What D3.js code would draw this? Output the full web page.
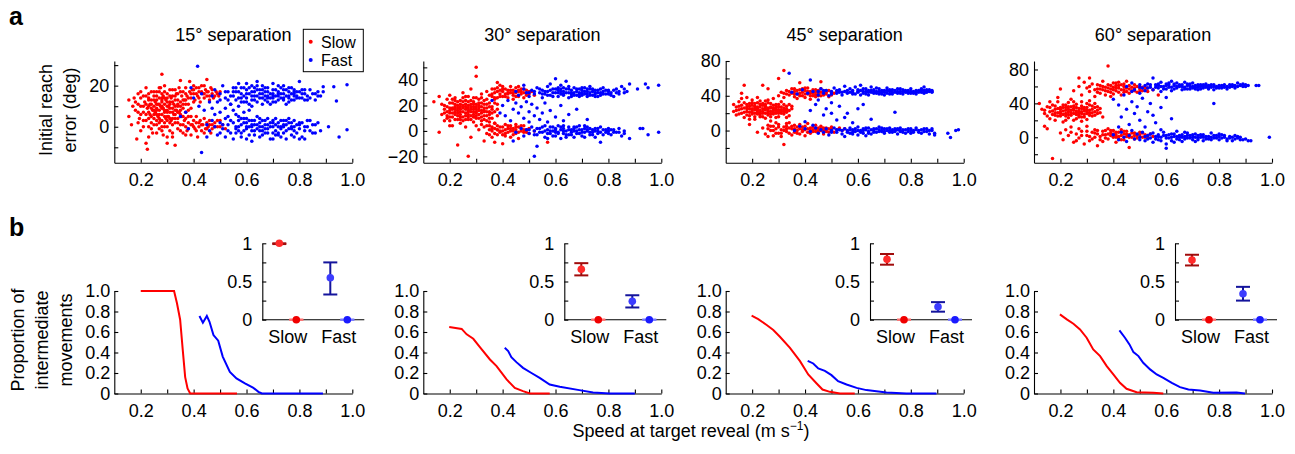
<!DOCTYPE html>
<html><head><meta charset="utf-8">
<script src="https://cdn.jsdelivr.net/npm/d3@7"></script>
<style>
body{margin:0;background:#fff;}
svg text{font-family:"Liberation Sans",Arial,Helvetica,sans-serif;fill:#000;}
</style></head><body>
<svg id="c" width="1295" height="454" xmlns="http://www.w3.org/2000/svg"></svg>
<script>
// ---------------- DATA ----------------
const panelTitles = ["15° separation","30° separation","45° separation","60° separation"];
const seriesNames = ["Slow","Fast"];
const speedTicks = [0.2,0.3,0.4,0.5,0.6,0.7,0.8,0.9,1.0];
const speedLabels = [0.2,0.4,0.6,0.8,1.0];
const speedDomain = [0.1,1.0];
const errorDomains = [[-17.5,32],[-25,55],[-37,80],[-30,90]];
const errorTicks = [[-10,0,10,20,30],[-20,-10,0,10,20,30,40,50],[-20,0,20,40,60,80],[-20,0,20,40,60,80]];
const errorLabels = [[0,20],[-20,0,20,40],[0,40,80],[0,40,80]];
const propTicks = [0,0.2,0.4,0.6,0.8,1.0];
const insetTicks = [0,0.25,0.5,0.75,1];
const insetLabels = [0,0.5,1];
const insetCategories = ["Slow","Fast"];
const insetCategoryPos = [1.5,4.5];
const insetPointPos = [1,2,4,5];

// scatter: [speed (m/s), initial reach error (deg)]
const slow15 = [[.155,13],[.155,5],[.17,10],[.165,1],[.185,-6],[.2,17],[.22,-8],[.225,-11],[.175,14],[.18,8],[.19,11],[.195,4],[.2,-2],[.21,15],[.21,7],[.215,12],[.22,3],[.225,9],[.23,16],[.23,0],[.235,6],[.235,11],[.24,13],[.24,2],[.245,8],[.245,-3],[.25,10],[.25,4],[.25,15],[.255,7],[.255,12],[.26,1],[.26,9],[.26,17],[.265,5],[.265,11],[.27,14],[.27,-1],[.27,8],[.275,3],[.275,10],[.275,19],[.28,6],[.28,12],[.28,25.5],[.285,9],[.285,-4],[.285,15],[.29,2],[.29,7],[.29,11],[.295,13],[.295,4],[.3,8],[.3,-8],[.3,16],[.3,0],[.305,10],[.305,5],[.31,12],[.31,-2],[.31,7],[.315,14],[.315,3],[.32,9],[.32,18],[.32,-5],[.325,6],[.325,11],[.33,-9],[.33,2],[.33,13],[.335,8],[.335,16],[.34,4],[.34,10],[.34,-1],[.345,19],[.345,7],[.35,22.5],[.35,12],[.35,1],[.355,15],[.355,5],[.36,9],[.36,-3],[.36,17],[.365,3],[.365,13],[.37,19],[.37,0],[.37,7],[.375,15],[.375,-2],[.38,11],[.38,2],[.385,22],[.385,17],[.39,5],[.39,14],[.39,-4],[.395,18],[.395,1],[.4,16],[.4,3],[.4,20],[.405,-1],[.405,13],[.41,19],[.41,2],[.415,15],[.415,-5],[.42,17],[.42,0],[.425,12],[.425,3],[.43,20],[.43,-2],[.435,16],[.435,1],[.44,14],[.44,4],[.445,18],[.445,-1],[.45,23],[.45,15],[.45,2],[.455,17],[.455,0],[.46,13],[.46,3],[.465,19],[.465,-3],[.47,16],[.47,1],[.475,14],[.48,2],[.485,17],[.49,0],[.495,15],[.5,3],[.51,1],[.52,-1],[.22,6],[.23,10],[.24,5],[.26,13],[.27,4],[.28,9],[.29,5],[.3,12],[.31,9],[.32,4],[.33,10],[.34,7],[.25,1],[.28,0],[.3,3],[.32,15],[.27,11],[.29,14],[.26,6],[.31,2],[.33,6],[.35,8],[.24,9],[.36,11],[.38,8],[.37,4],[.34,13],[.28,16],[.23,13],[.22,19],[.19,16],[.2,6],
[.18,12],[.19,7],[.2,10],[.2,14],[.21,3],[.21,10],[.22,15],[.22,11],[.23,7],[.23,4],[.24,17],[.24,11],[.25,6],[.25,13],[.25,8],[.26,3],[.26,15],[.26,11],[.27,6],[.27,17],[.27,2],[.28,14],[.28,3],[.28,10],[.29,8],[.29,17],[.29,0],[.3,10],[.3,5],[.3,14],[.31,11],[.31,4],[.31,15],[.32,7],[.32,12],[.32,1],[.33,4],[.33,15],[.33,8],[.34,11],[.34,2],[.34,16],[.35,6],[.35,10],[.35,-2],[.36,13],[.36,5],[.36,1],[.37,11],[.37,16],[.37,-4],[.38,14],[.38,5],[.38,-1],[.39,9],[.39,16],[.39,1],[.4,12],[.4,0],[.4,18],[.41,16],[.41,-2],[.41,5],[.42,14],[.42,2],[.42,19],[.43,17],[.43,1],[.44,16],[.44,-3],[.44,20],[.45,17],[.45,-1],[.46,15],[.46,1],[.47,18],[.47,-1],[.48,15],[.48,0],[.49,16],[.49,3],[.5,17],[.5,0],[.24,-1],[.26,-3],[.28,-2],[.3,-5],[.32,-3],[.21,0],[.19,2],[.23,-5],[.25,17],[.27,19],[.29,20],[.31,18],[.33,18],[.35,17],[.37,13],[.23,14],[.3,7],[.28,13],[.26,8]];
const fast15 = [[.47,15],[.48,18],[.49,12],[.5,16],[.51,20],[.52,14],[.53,17],[.54,11],[.55,19],[.55,15],[.56,13],[.57,21],[.57,17],[.58,12],[.58,16],[.59,19],[.6,14],[.6,18],[.61,11],[.61,16],[.62,20],[.62,13],[.63,17],[.63,15],[.64,22],[.64,12],[.65,18],[.65,14],[.66,16],[.66,20],[.67,13],[.67,17],[.68,15],[.68,19],[.69,11],[.69,16],[.7,14],[.7,18],[.71,15],[.71,12],[.72,17],[.72,20],[.73,14],[.73,16],[.74,13],[.74,18],[.75,15],[.75,11],[.76,17],[.76,14],[.77,16],[.77,19],[.78,13],[.78,15],[.79,17],[.8,14],[.8,22],[.81,16],[.82,13],[.83,15],[.84,18],[.84,14],[.86,16],[.87,15],[.89,19.5],[.93,19.5],[.94,12.5],[.98,20.5],[.89,17],[.6,21],[.62,10],[.66,11],[.7,21],[.74,20],[.68,12],[.64,15],[.59,15],[.56,17],[.53,13],[.72,15],[.76,12],[.79,15],[.82,18],[.58,19],[.63,19],[.7,16],[.78,18],[.67,15],
[.45,1],[.46,-2],[.47,3],[.48,0],[.49,-4],[.5,2],[.51,-1],[.52,4],[.53,1],[.54,-3],[.55,2],[.55,-6],[.56,0],[.57,3],[.57,-2],[.58,1],[.58,-5],[.59,4],[.6,-1],[.6,2],[.61,-4],[.61,0],[.62,3],[.62,-7],[.63,1],[.63,-2],[.64,5],[.64,-1],[.65,2],[.65,-5],[.66,0],[.66,3],[.67,-3],[.67,1],[.68,4],[.68,-1],[.69,2],[.69,-6],[.7,0],[.7,3],[.71,-2],[.71,1],[.72,-4],[.72,2],[.73,0],[.73,-1],[.74,3],[.74,-3],[.75,1],[.75,-6],[.76,-1],[.76,2],[.77,0],[.77,-4],[.78,3],[.78,-2],[.79,1],[.8,-1],[.8,2],[.81,-5],[.82,0],[.83,3],[.84,-2],[.85,1],[.86,-3],[.87,2],[.91,0],[.95,-5],[.98,-1.5],[.43,-12.5],[.59,-2],[.62,0],[.65,-2],[.68,1],[.71,4],[.74,0],[.77,2],[.63,3],[.66,-2],[.56,-3],[.7,-3],[.8,-6],[.6,4],[.73,-5],
[.5,7],[.52,9],[.53,5],[.55,8],[.56,6],[.57,10],[.59,7],[.61,8],[.54,11],[.58,4],[.415,29.5],[.37,7],[.39,19],[.38,-1],[.35,5],[.42,10],[.44,8],[.46,12],[.48,6],[.4,14],[.43,16],[.45,-5],[.47,9],
[.5,13],[.52,17],[.54,15],[.56,19],[.57,14],[.59,12],[.6,16],[.61,19],[.62,15],[.63,13],[.64,18],[.65,16],[.66,14],[.67,19],[.68,17],[.69,14],[.7,12],[.71,18],[.72,13],[.73,19],[.74,16],[.75,18],[.76,15],[.77,13],[.78,17],[.79,14],[.8,17],[.81,14],[.82,16],[.83,13],[.85,16],[.86,13],[.88,15],[.6,12],[.64,20],[.68,14],[.72,16],[.76,19],[.66,18],[.58,14],[.62,17],[.7,15],[.74,14],[.78,16],[.55,17],[.81,18],[.87,17],
[.5,-3],[.51,1],[.53,-2],[.54,3],[.56,-1],[.57,0],[.58,-3],[.59,2],[.6,0],[.61,3],[.62,-2],[.63,-4],[.64,1],[.65,0],[.66,-4],[.67,3],[.68,-3],[.69,0],[.7,2],[.71,-4],[.72,0],[.73,3],[.74,1],[.75,-2],[.76,4],[.77,-1],[.78,0],[.79,-3],[.8,1],[.81,2],[.82,-2],[.83,0],[.84,3],[.85,-3],[.86,1],[.88,-2],[.6,-6],[.65,4],[.7,-6],[.75,3],[.62,1],[.67,-1],[.72,-3],[.78,-5],[.82,-6],[.57,5],[.52,-5]];
const slow30 = [[.14,23],[.16,27],[.16,-1],[.17,13],[.18,20],[.18,8],[.19,25],[.19,15],[.2,18],[.2,11],[.2,28],[.21,14],[.21,22],[.21,4],[.22,17],[.22,9],[.22,26],[.23,12],[.23,20],[.23,-11],[.24,15],[.24,24],[.24,6],[.25,18],[.25,11],[.25,30],[.26,14],[.26,21],[.26,3],[.27,16],[.27,9],[.27,27],[.27,-20],[.28,19],[.28,12],[.28,33],[.28,-5],[.29,15],[.29,23],[.29,7],[.3,17],[.3,50],[.3,43],[.3,10],[.3,26],[.31,13],[.31,20],[.31,1],[.32,16],[.32,29],[.32,8],[.33,18],[.33,12],[.33,24],[.33,-8],[.34,15],[.34,31],[.34,4],[.35,19],[.35,10],[.35,-3],[.36,27],[.36,14],[.36,2],[.37,22],[.37,-9],[.37,6],[.38,38],[.38,17],[.38,1],[.22,13],[.24,19],[.26,17],[.28,15],[.3,14],[.32,11],[.34,21],[.25,23],[.27,13],[.29,19],[.31,16],[.23,16],[.21,18],[.35,15],[.2,14],[.19,10],[.26,9],[.3,21],[.33,15],[.18,17],[.29,11],[.27,20],[.32,22],[.36,19],[.24,11],[.28,24],[.31,25],[.17,21],[.22,21],
[.35,28],[.36,33],[.37,30],[.38,26],[.38,34],[.39,29],[.39,36],[.4,31],[.4,27],[.41,33],[.41,29],[.42,32],[.42,26],[.43,30],[.43,35],[.44,28],[.44,32],[.45,30],[.45,34],[.46,27],[.46,31],[.47,29],[.47,33],[.48,30],[.48,26],[.49,32],[.5,29],[.51,31],[.52,28],[.4,35],[.42,29],[.44,25],[.46,35],[.37,25],[.39,32],
[.33,3],[.34,-2],[.35,4],[.36,0],[.36,-5],[.37,2],[.38,-3],[.38,4],[.39,0],[.39,-1],[.4,3],[.4,-10],[.41,1],[.41,-4],[.42,2],[.42,-1],[.43,4],[.43,0],[.44,-3],[.44,2],[.45,1],[.45,-2],[.46,3],[.46,-6],[.47,0],[.47,2],[.48,-1],[.48,4],[.49,1],[.5,-2],[.5,2],[.52,0],[.57,-9],[.41,5],[.43,-5],[.37,6],[.45,5],
[.18,14],[.19,19],[.19,12],[.2,16],[.2,22],[.2,8],[.21,11],[.21,17],[.21,25],[.22,15],[.22,19],[.23,14],[.23,23],[.23,9],[.24,13],[.24,17],[.24,21],[.25,15],[.25,20],[.25,8],[.26,12],[.26,19],[.26,24],[.27,15],[.27,18],[.27,11],[.28,17],[.28,21],[.28,9],[.29,13],[.29,17],[.29,26],[.3,15],[.3,19],[.3,12],[.31,18],[.31,10],[.31,22],[.32,14],[.32,19],[.32,5],[.33,16],[.33,21],[.33,9],[.34,12],[.34,18],[.34,25],[.35,13],[.35,22],[.35,7],[.36,17],[.36,10],[.37,15],[.37,26],[.38,12],[.38,21],[.22,24],[.24,9],[.26,27],[.3,4],[.32,26],[.34,8],[.2,4],[.27,23],[.25,26],[.23,18],[.29,21],
[.36,29],[.38,31],[.4,33],[.41,27],[.42,30],[.43,32],[.44,30],[.45,27],[.46,32],[.47,31],[.48,33],[.49,28],[.5,31],[.39,27],[.37,33],
[.35,1],[.37,-2],[.38,1],[.39,3],[.4,0],[.41,-2],[.42,4],[.43,2],[.44,0],[.45,3],[.46,-1],[.47,4],[.48,1],[.49,-1],[.36,3],[.4,-3]];
const fast30 = [[.45,31],[.46,28],[.48,33],[.49,30],[.5,27],[.51,32],[.52,29],[.53,34],[.54,30],[.55,26],[.55,32],[.56,29],[.57,35],[.57,31],[.58,28],[.59,33],[.6,30],[.6,41],[.61,27],[.61,32],[.62,29],[.62,36],[.63,31],[.63,28],[.64,33],[.64,39],[.65,30],[.65,26],[.66,32],[.66,29],[.67,34],[.67,30],[.68,28],[.68,31],[.69,33],[.69,27],[.7,30],[.7,32],[.71,29],[.71,34],[.72,31],[.72,27],[.73,30],[.73,33],[.74,28],[.74,31],[.75,32],[.75,29],[.76,30],[.77,33],[.77,28],[.78,31],[.79,29],[.8,32],[.81,30],[.82,27],[.83,33],[.84,31],[.85,35],[.86,30],[.88,37],[.91,33],[.94,37],[.95,34],[.99,36],[.59,30],[.63,34],[.66,27],[.7,28],[.73,35],[.76,27],[.8,29],[.58,37],[.62,33],
[.45,-1],[.47,2],[.48,-4],[.49,1],[.5,-2],[.51,3],[.52,0],[.52,-20],[.53,-12],[.53,-3],[.54,2],[.55,-1],[.56,4],[.56,-5],[.57,1],[.58,-2],[.58,3],[.59,0],[.6,-4],[.6,2],[.61,-1],[.61,4],[.62,1],[.62,-6],[.63,-2],[.63,2],[.64,0],[.65,3],[.65,-3],[.66,1],[.66,-1],[.67,2],[.67,-5],[.68,0],[.68,3],[.69,-2],[.7,1],[.7,-4],[.71,2],[.71,-1],[.72,0],[.72,3],[.73,-3],[.74,1],[.74,-1],[.75,2],[.76,-2],[.76,0],[.77,-9],[.77,3],[.78,1],[.79,-1],[.8,2],[.8,0],[.81,-3],[.82,1],[.83,-1],[.84,2],[.85,-4],[.86,0],[.88,-6],[.92,2],[.93,2],[.95,-3],[.99,-1],[.64,-3],[.69,4],[.73,-1],[.59,3],
[.4,20],[.41,12],[.42,24],[.43,8],[.44,17],[.45,22],[.46,14],[.47,19],[.48,10],[.49,23],[.5,15],[.5,7],[.51,21],[.52,12],[.53,18],[.54,9],[.55,14],[.56,22],[.57,7],[.58,16],[.6,11],[.62,20],[.63,8],[.65,13],[.68,17],[.72,9],[.36,24],[.39,14],[.48,36],[.44,-8],
[.5,30],[.52,31],[.54,33],[.55,29],[.56,31],[.57,28],[.58,32],[.59,27],[.6,33],[.61,30],[.62,31],[.63,29],[.64,30],[.65,33],[.66,30],[.67,28],[.68,33],[.69,30],[.7,34],[.71,31],[.72,29],[.73,28],[.74,33],[.75,30],[.76,32],[.77,30],[.78,29],[.79,32],[.8,31],[.81,28],[.82,32],[.83,30],[.84,29],[.86,33],[.87,31],[.65,35],[.69,29],[.72,33],[.61,34],[.75,27],[.78,34],
[.5,1],[.52,-3],[.53,2],[.54,-1],[.55,3],[.56,0],[.57,-2],[.58,0],[.59,-4],[.6,1],[.61,-2],[.62,3],[.63,0],[.64,-5],[.65,1],[.66,-3],[.67,0],[.68,-2],[.69,1],[.7,-1],[.71,-5],[.72,1],[.73,2],[.74,-3],[.75,0],[.76,2],[.77,-1],[.78,-3],[.79,1],[.8,-2],[.81,1],[.82,-1],[.84,-1],[.86,-2],[.63,4],[.67,3],[.71,4],[.57,-6],[.75,-5],[.6,-1]];
const slow45 = [[.13,30],[.13,22],[.14,27],[.14,18],[.15,24],[.15,33],[.16,37],[.16,20],[.16,43],[.17,26],[.17,52],[.17,15],[.18,30],[.18,22],[.18,38],[.19,7],[.19,25],[.19,17],[.2,29],[.2,21],[.2,35],[.21,24],[.21,13],[.21,31],[.22,19],[.22,27],[.22,38],[.23,23],[.23,16],[.23,30],[.24,52],[.24,25],[.24,20],[.25,28],[.25,14],[.25,34],[.26,48],[.26,22],[.26,18],[.27,26],[.27,31],[.27,11],[.28,23],[.28,29],[.28,37],[.29,20],[.29,25],[.3,60],[.3,27],[.3,16],[.31,22],[.31,33],[.31,24],[.32,69],[.32,26],[.32,19],[.33,28],[.33,23],[.34,30],[.34,17],[.35,25],[.2,25],[.22,23],[.24,29],[.26,26],[.28,21],[.3,24],[.18,27],[.23,20],[.27,22],[.25,24],[.29,30],[.21,28],[.19,21],[.17,32],[.15,28],[.32,22],[.26,32],[.24,16],[.28,25],[.3,20],[.22,32],
[.3,40],[.31,44],[.32,38],[.33,46],[.34,41],[.35,43],[.35,48],[.36,39],[.36,45],[.37,42],[.38,55],[.38,47],[.38,40],[.39,44],[.4,38],[.4,46],[.41,42],[.41,49],[.42,40],[.42,45],[.43,43],[.43,47],[.44,41],[.44,39],[.45,46],[.45,43],[.46,56],[.46,40],[.46,48],[.47,44],[.48,42],[.48,46],[.49,39],[.5,44],[.5,41],[.51,43],[.52,45],[.33,42],[.37,37],[.39,48],[.42,36],[.44,47],
[.22,-2],[.24,3],[.25,-4],[.26,6],[.27,0],[.28,-6],[.28,5],[.29,2],[.3,-3],[.3,7],[.31,1],[.32,-16],[.32,4],[.33,-1],[.33,8],[.34,3],[.35,-5],[.35,2],[.36,6],[.36,-2],[.37,0],[.37,4],[.38,-4],[.38,7],[.39,1],[.39,-1],[.4,5],[.4,-6],[.41,2],[.41,8],[.42,-3],[.42,0],[.43,4],[.43,-1],[.44,6],[.44,2],[.45,-2],[.45,3],[.46,0],[.46,5],[.47,1],[.47,-4],[.48,3],[.48,-1],[.49,2],[.5,0],[.5,4],[.51,-2],[.52,1],[.53,3],[.54,0],[.55,2],[.34,9],[.31,-7],[.26,-7],[.29,9],
[.14,23],[.15,19],[.16,25],[.16,29],[.17,21],[.18,18],[.18,25],[.19,28],[.19,31],[.2,19],[.2,23],[.21,20],[.21,26],[.22,21],[.22,25],[.23,27],[.23,18],[.24,22],[.24,31],[.25,20],[.25,26],[.26,24],[.26,20],[.27,27],[.27,19],[.28,26],[.28,19],[.29,23],[.29,27],[.3,22],[.3,30],[.31,20],[.31,27],[.32,24],[.32,30],[.33,21],[.33,25],[.34,23],[.35,28],[.2,32],[.23,34],[.26,35],[.29,15],[.21,16],[.27,16],[.25,30],[.19,13],[.33,15],
[.32,43],[.34,45],[.36,42],[.37,46],[.38,43],[.39,40],[.4,42],[.41,45],[.42,43],[.43,40],[.44,44],[.45,40],[.46,44],[.47,41],[.48,44],[.49,46],[.5,42],[.36,48],[.4,49],
[.26,2],[.28,0],[.3,4],[.31,-3],[.32,0],[.33,2],[.34,-3],[.35,5],[.36,2],[.37,-3],[.38,2],[.39,4],[.4,1],[.41,-2],[.42,3],[.43,1],[.44,-1],[.45,0],[.46,2],[.47,3],[.48,0],[.49,-2],[.5,2],[.27,5],[.29,-3],[.33,5]];
const fast45 = [[.35,44],[.37,42],[.39,47],[.41,43],[.42,58],[.43,45],[.45,41],[.46,48],[.47,43],[.48,46],[.49,40],[.5,45],[.51,49],[.52,43],[.53,47],[.54,41],[.55,51],[.55,45],[.56,43],[.57,48],[.58,42],[.58,46],[.59,50],[.6,44],[.6,47],[.61,41],[.61,52],[.62,45],[.62,43],[.63,48],[.64,44],[.64,41],[.65,46],[.65,50],[.66,43],[.66,47],[.67,45],[.68,42],[.68,48],[.69,44],[.7,46],[.7,41],[.71,49],[.71,43],[.72,45],[.73,47],[.73,42],[.74,44],[.75,48],[.75,43],[.76,45],[.77,42],[.77,47],[.78,44],[.79,46],[.8,43],[.8,48],[.81,45],[.82,42],[.83,46],[.84,44],[.85,50],[.85,46],[.86,44],[.86,47],[.87,45],[.88,46],[.88,44],[.84,48],[.63,45],[.67,49],[.72,42],[.76,48],[.79,43],[.82,46],[.69,46],[.57,44],[.53,44],
[.4,2],[.42,-1],[.44,3],[.45,-3],[.46,1],[.47,-2],[.48,2],[.49,-5],[.5,0],[.51,3],[.52,-2],[.53,1],[.54,-4],[.55,2],[.55,-7],[.56,0],[.57,3],[.57,-3],[.58,1],[.59,-1],[.6,4],[.6,-5],[.61,0],[.62,2],[.62,-3],[.63,1],[.64,-1],[.64,3],[.65,-4],[.66,0],[.66,2],[.67,-2],[.68,1],[.68,4],[.69,-1],[.7,2],[.7,-3],[.71,0],[.72,3],[.72,-2],[.73,1],[.74,-1],[.74,2],[.75,-4],[.76,0],[.76,3],[.77,-2],[.78,1],[.79,-1],[.8,2],[.8,-3],[.81,0],[.82,3],[.83,-2],[.84,1],[.85,-1],[.86,2],[.87,-4],[.88,0],[.89,-3],[.94,-3],[.95,-8],[.97,0],[.98,1],[.63,-6],[.69,3],[.75,1],[.58,-2],
[.34,66],[.74,21],[.6,25],[.55,15],[.45,35],[.48,25],[.42,23],[.44,30],[.47,18],[.5,32],[.52,12],[.53,28],[.56,20],[.58,9],[.62,30],[.65,13],[.4,10],[.43,6],[.38,5],[.36,0],[.5,20],
[.45,45],[.47,46],[.5,42],[.52,46],[.54,44],[.56,46],[.58,44],[.59,42],[.6,45],[.61,46],[.62,48],[.63,42],[.64,46],[.65,44],[.66,45],[.67,43],[.68,45],[.69,42],[.7,44],[.71,46],[.72,47],[.73,44],[.74,46],[.75,45],[.76,43],[.77,45],[.78,46],[.79,44],[.8,45],[.81,43],[.82,44],[.83,44],[.84,46],[.86,45],[.87,47],[.88,45],[.85,43],
[.5,-2],[.52,1],[.54,0],[.56,-2],[.57,1],[.58,-4],[.59,2],[.6,0],[.61,-2],[.62,0],[.63,3],[.64,-3],[.65,1],[.66,-2],[.67,2],[.68,-1],[.69,0],[.7,-1],[.71,2],[.72,0],[.73,-2],[.74,0],[.75,2],[.76,-1],[.77,1],[.78,-3],[.79,2],[.8,0],[.81,-2],[.82,1],[.83,0],[.84,-3],[.85,2],[.86,-1],[.87,0],[.88,2],[.89,-5]];
const slow60 = [[.12,40],[.13,33],[.14,13],[.14,28],[.15,10],[.15,36],[.16,30],[.16,22],[.17,-25],[.17,38],[.17,27],[.18,33],[.18,20],[.19,42],[.19,29],[.2,35],[.2,25],[.2,57],[.21,31],[.21,18],[.22,38],[.22,28],[.23,33],[.23,23],[.24,36],[.24,29],[.24,45],[.25,32],[.25,20],[.26,27],[.26,39],[.27,34],[.27,70],[.27,24],[.28,30],[.28,42],[.29,27],[.29,35],[.3,32],[.3,21],[.31,70],[.31,29],[.31,38],[.32,33],[.32,25],[.33,30],[.33,40],[.34,28],[.35,34],[.36,24],[.21,35],[.23,30],[.25,37],[.27,29],[.29,31],[.22,32],[.26,31],[.28,34],[.3,28],[.24,26],[.19,34],[.32,37],[.18,26],[.2,30],[.34,36],[.26,22],[.3,40],[.23,41],[.28,24],
[.25,55],[.27,60],[.28,50],[.3,58],[.31,54],[.32,63],[.33,48],[.34,57],[.35,61],[.35,52],[.36,66],[.36,56],[.37,50],[.37,59],[.38,84],[.38,62],[.38,54],[.39,57],[.4,51],[.4,64],[.4,59],[.41,55],[.41,61],[.42,53],[.42,58],[.43,62],[.43,50],[.44,56],[.44,60],[.45,54],[.45,66],[.46,57],[.46,52],[.47,59],[.48,55],[.48,62],[.49,53],[.5,57],[.51,55],[.52,59],[.53,54],[.55,56],[.57,50],[.39,48],[.42,65],[.34,62],[.29,65],
[.2,5],[.21,-3],[.22,9],[.23,2],[.24,12],[.25,-6],[.26,4],[.27,-1],[.27,10],[.28,7],[.29,-8],[.3,2],[.3,13],[.31,-4],[.32,6],[.33,0],[.33,9],[.34,-10],[.34,4],[.35,1],[.36,7],[.36,-5],[.37,3],[.38,10],[.38,-2],[.39,5],[.4,0],[.4,8],[.41,-6],[.41,3],[.42,6],[.42,-1],[.43,2],[.43,9],[.44,-3],[.44,4],[.45,1],[.45,7],[.46,-12],[.46,3],[.47,0],[.48,5],[.48,-2],[.49,2],[.5,6],[.51,0],[.52,3],[.53,-1],[.54,4],[.55,1],[.39,2],[.41,0],[.4,4],[.37,8],
[.14,32],[.15,25],[.16,35],[.17,31],[.18,29],[.18,37],[.19,25],[.2,28],[.2,33],[.21,27],[.21,38],[.22,25],[.22,35],[.23,27],[.23,36],[.24,32],[.25,28],[.25,34],[.26,29],[.26,35],[.27,31],[.27,26],[.28,28],[.28,37],[.29,33],[.29,24],[.3,30],[.3,35],[.31,32],[.31,26],[.32,29],[.33,35],[.33,26],[.34,32],[.35,29],[.22,20],[.25,42],[.28,19],[.31,43],[.19,47],[.16,42],
[.33,56],[.34,53],[.36,60],[.37,55],[.38,58],[.39,61],[.39,53],[.4,56],[.41,58],[.42,61],[.43,56],[.44,53],[.44,63],[.45,58],[.46,61],[.47,55],[.48,58],[.49,60],[.5,54],[.51,59],[.52,56],[.53,58],[.35,57],[.41,64],[.31,60],
[.3,7],[.31,1],[.32,-2],[.33,5],[.34,8],[.35,-3],[.36,3],[.37,-1],[.38,4],[.39,8],[.4,2],[.41,6],[.42,1],[.43,-3],[.44,7],[.45,4],[.46,0],[.47,5],[.48,2],[.49,-1],[.5,3],[.51,5],[.52,0],[.53,2],[.28,2],[.26,-4],[.24,6]];
const fast60 = [[.45,60],[.47,64],[.48,56],[.5,62],[.51,58],[.52,55],[.53,63],[.54,59],[.55,70],[.55,56],[.56,62],[.57,58],[.58,65],[.58,54],[.59,60],[.6,57],[.6,63],[.61,59],[.62,66],[.62,55],[.63,61],[.64,58],[.64,64],[.65,60],[.66,56],[.66,62],[.67,59],[.68,63],[.68,57],[.69,60],[.7,58],[.7,64],[.71,61],[.72,56],[.72,59],[.73,62],[.74,58],[.74,60],[.75,63],[.76,57],[.76,61],[.77,59],[.78,62],[.78,56],[.79,60],[.8,58],[.81,61],[.82,59],[.83,57],[.84,62],[.85,60],[.86,58],[.87,64],[.88,61],[.89,63],[.9,62],[.91,61],[.94,61],[.95,61],[.63,57],[.67,65],[.71,57],[.75,59],[.8,61],[.57,61],[.61,62],[.69,57],[.73,60],[.53,58],
[.4,3],[.42,-3],[.43,6],[.44,0],[.45,-5],[.46,2],[.47,8],[.48,-2],[.49,4],[.5,0],[.51,6],[.52,-4],[.53,2],[.54,-1],[.55,5],[.55,-6],[.56,1],[.57,3],[.57,-3],[.58,0],[.59,6],[.6,-13],[.6,-8],[.6,2],[.61,-1],[.62,4],[.62,-4],[.63,1],[.64,-2],[.64,7],[.65,0],[.66,3],[.66,-5],[.67,1],[.68,-1],[.68,5],[.69,2],[.7,-3],[.7,0],[.71,4],[.72,-1],[.72,2],[.73,0],[.74,-4],[.74,3],[.75,1],[.76,-2],[.77,5],[.77,0],[.78,-1],[.79,2],[.8,-3],[.8,1],[.81,3],[.82,0],[.83,-2],[.84,1],[.85,-4],[.86,2],[.87,-1],[.88,0],[.89,-3],[.91,-4],[.92,-4],[.99,0],[.58,9],[.63,-6],[.67,6],[.71,-5],[.65,2],
[.4,45],[.42,38],[.43,24],[.44,50],[.45,33],[.46,15],[.47,42],[.48,28],[.49,36],[.5,20],[.51,46],[.52,12],[.53,30],[.54,40],[.55,26],[.56,17],[.58,35],[.6,47],[.62,22],[.78,40],[.42,12],[.5,52],[.47,54],
[.5,59],[.52,61],[.54,62],[.56,59],[.57,63],[.58,60],[.59,57],[.6,61],[.61,64],[.62,59],[.63,63],[.64,60],[.65,62],[.66,60],[.67,57],[.68,61],[.69,63],[.7,60],[.71,59],[.72,62],[.73,57],[.74,62],[.75,61],[.76,59],[.77,62],[.78,60],[.79,58],[.8,60],[.81,58],[.82,62],[.83,60],[.84,59],[.85,62],[.86,61],[.87,60],[.88,62],[.9,60],[.89,60],
[.5,-3],[.52,1],[.53,-2],[.54,4],[.56,-2],[.57,1],[.58,-4],[.59,2],[.6,-1],[.61,3],[.62,0],[.63,4],[.64,1],[.65,-3],[.66,0],[.67,-2],[.68,2],[.69,-1],[.7,3],[.71,0],[.72,-3],[.73,3],[.74,0],[.75,-2],[.76,1],[.77,-3],[.78,2],[.79,-1],[.8,4],[.81,-1],[.82,2],[.83,-4],[.84,-1],[.85,0],[.86,-2],[.87,1],[.88,-3],[.9,-2]];

// proportion of intermediate movements vs speed
const curveSlow15 = [[.2,1],[.25,1],[.3,1],[.326,1],[.337,.88],[.349,.72],[.359,.42],[.368,.16],[.377,.05],[.387,0],[.45,0],[.5,0],[.564,0]];
const curveFast15 = [[.422,.756],[.435,.69],[.45,.756],[.46,.70],[.475,.57],[.493,.515],[.51,.36],[.537,.21],[.562,.147],[.594,.098],[.626,.055],[.645,.016],[.658,0],[.75,0],[.889,0]];
const curveSlow30 = [[.198,.648],[.245,.63],[.264,.577],[.289,.534],[.314,.453],[.352,.332],[.377,.267],[.415,.137],[.446,.055],[.477,.023],[.503,0],[.578,0]];
const curveFast30 = [[.408,.446],[.421,.414],[.433,.355],[.452,.306],[.477,.25],[.509,.2],[.54,.153],[.578,.088],[.616,.065],[.69,.033],[.742,.01],[.805,0],[.9,0]];
const curveSlow45 = [[.198,.759],[.223,.726],[.255,.668],[.28,.619],[.305,.554],[.343,.446],[.381,.316],[.412,.186],[.444,.098],[.466,.039],[.494,.016],[.532,0],[.588,0]];
const curveFast45 = [[.41,.319],[.431,.293],[.45,.244],[.475,.221],[.5,.179],[.525,.12],[.557,.088],[.595,.055],[.632,.033],[.708,.01],[.783,0],[.897,0]];
const curveSlow60 = [[.198,.772],[.224,.723],[.249,.681],[.274,.625],[.299,.544],[.324,.43],[.35,.365],[.375,.267],[.4,.186],[.425,.104],[.45,.046],[.488,.013],[.551,.007],[.589,0]];
const curveFast60 = [[.423,.616],[.444,.544],[.461,.479],[.476,.404],[.495,.365],[.513,.3],[.539,.235],[.564,.186],[.589,.153],[.621,.104],[.652,.062],[.684,.039],[.728,.029],[.778,.007],[.866,.01],[.898,0]];

// inset: order = Slow (intermediate), Slow (other), Fast (intermediate), Fast (other)
const insetMean15 = [1.0,0,0.55,0], insetLow15 = [0.99,0,0.33,0], insetHigh15 = [1.0,0,0.75,0];
const insetMean30 = [0.66,0,0.24,0], insetLow30 = [0.58,0,0.16,0], insetHigh30 = [0.74,0,0.32,0];
const insetMean45 = [0.79,0,0.17,0], insetLow45 = [0.72,0,0.105,0], insetHigh45 = [0.86,0,0.23,0];
const insetMean60 = [0.78,0,0.34,0], insetLow60 = [0.71,0,0.25,0], insetHigh60 = [0.85,0,0.43,0];

// ---------------- LAYOUT / STYLE ----------------
const FONT = '"Liberation Sans", Arial, Helvetica, sans-serif';
const svg = d3.select("#c");
const lefts = [114.3, 423.3, 725.7, 1034];
const pw = 238;
const topA = 61, botA = 162.7;
const topB = 291, botB = 393.5;
const insetLefts = [262.3, 564.3, 870, 1175];
const insetTop = 243.3, insetBot = 319.7, insetW = 102;
const RED = "#ff0000", BLUE = "#0000ff";

const scatterData = [[slow15,fast15],[slow30,fast30],[slow45,fast45],[slow60,fast60]];
const curveData = [[curveSlow15,curveFast15],[curveSlow30,curveFast30],[curveSlow45,curveFast45],[curveSlow60,curveFast60]];
const insetData = [[insetMean15,insetLow15,insetHigh15],[insetMean30,insetLow30,insetHigh30],[insetMean45,insetLow45,insetHigh45],[insetMean60,insetLow60,insetHigh60]];

const has = (arr, d) => arr.some(v => Math.abs(v - d) < 1e-9);
const numFmt = d => d < 0 ? "\u2212" + Math.abs(d) : String(d);

function styleAxis(g, size) {
  g.attr("font-family", FONT).attr("font-size", size);
  g.selectAll("path.domain").attr("stroke", "#000").attr("stroke-width", 1.1);
  g.selectAll(".tick line").attr("stroke", "#000").attr("stroke-width", 1.1);
  g.selectAll(".tick text").attr("fill", "#000");
}

for (let i = 0; i < 4; i++) {
  const x = d3.scaleLinear().domain(speedDomain).range([lefts[i], lefts[i] + pw]);
  // ---- top row scatter ----
  const yA = d3.scaleLinear().domain(errorDomains[i]).range([botA, topA]);
  const gA = svg.append("g");
  const [sl, fa] = scatterData[i];
  gA.append("g").selectAll("circle").data(sl).join("circle")
    .attr("cx", d => x(d[0])).attr("cy", d => yA(d[1])).attr("r", 1.75).attr("fill", RED);
  gA.append("g").selectAll("circle").data(fa).join("circle")
    .attr("cx", d => x(d[0])).attr("cy", d => yA(d[1])).attr("r", 1.75).attr("fill", BLUE);

  const axXa = gA.append("g").attr("transform", `translate(0,${botA})`)
    .call(d3.axisBottom(x).tickValues(speedTicks).tickSize(-4).tickSizeOuter(0).tickPadding(11)
      .tickFormat(d => has(speedLabels, d) ? d.toFixed(1) : ""));
  styleAxis(axXa, 18);
  const axYa = gA.append("g").attr("transform", `translate(${lefts[i]},0)`)
    .call(d3.axisLeft(yA).tickValues(errorTicks[i]).tickSize(-4).tickSizeOuter(0).tickPadding(5)
      .tickFormat(d => has(errorLabels[i], d) ? numFmt(d) : ""));
  styleAxis(axYa, 18);

  svg.append("text").attr("x", lefts[i] + pw / 2).attr("y", 41).attr("text-anchor", "middle")
    .attr("font-size", 18).text(panelTitles[i]);

  // ---- bottom row curves ----
  const yB = d3.scaleLinear().domain([0, 1]).range([botB, topB]);
  const gB = svg.append("g");
  const line = d3.line().x(d => x(d[0])).y(d => yB(d[1]));
  const axXb = gB.append("g").attr("transform", `translate(0,${botB})`)
    .call(d3.axisBottom(x).tickValues(speedTicks).tickSize(-4).tickSizeOuter(0).tickPadding(11)
      .tickFormat(d => has(speedLabels, d) ? d.toFixed(1) : ""));
  styleAxis(axXb, 18);
  const axYb = gB.append("g").attr("transform", `translate(${lefts[i]},0)`)
    .call(d3.axisLeft(yB).tickValues(propTicks).tickSize(-4).tickSizeOuter(0).tickPadding(4)
      .tickFormat(d => d === 0 ? "0" : d.toFixed(1)));
  styleAxis(axYb, 18);
  gB.append("path").datum(curveData[i][0]).attr("d", line).attr("fill", "none")
    .attr("stroke", RED).attr("stroke-width", 2);
  gB.append("path").datum(curveData[i][1]).attr("d", line).attr("fill", "none")
    .attr("stroke", BLUE).attr("stroke-width", 2);

  // ---- inset ----
  const xi = d3.scaleLinear().domain([0, 6]).range([insetLefts[i], insetLefts[i] + insetW]);
  const yi = d3.scaleLinear().domain([0, 1]).range([insetBot, insetTop]);
  const gI = svg.append("g");
  gI.append("line").attr("x1", xi(0)).attr("x2", xi(6)).attr("y1", insetBot).attr("y2", insetBot)
    .attr("stroke", "#000").attr("stroke-width", 1.1);
  const axYi = gI.append("g").attr("transform", `translate(${insetLefts[i]},0)`)
    .call(d3.axisLeft(yi).tickValues(insetTicks).tickSize(-4).tickSizeOuter(0).tickPadding(10)
      .tickFormat(d => has(insetLabels, d) ? String(d) : ""));
  styleAxis(axYi, 18);
  insetCategories.forEach((c, k) => {
    gI.append("text").attr("x", xi(insetCategoryPos[k])).attr("y", insetBot + 23.5)
      .attr("text-anchor", "middle").attr("font-size", 18).text(c);
  });
  const [mean, lo, hi] = insetData[i];
  const barCol = ["#a00c0c", "#ff7070", "#14149c", "#7878ff"];
  const dotCol = ["#ff2a2a", "#f00000", "#3c3cff", "#1a1aff"];
  mean.forEach((m, k) => {
    const cx = xi(insetPointPos[k]);
    gI.append("line").attr("x1", cx).attr("x2", cx).attr("y1", yi(lo[k])).attr("y2", yi(hi[k]))
      .attr("stroke", barCol[k]).attr("stroke-width", 2);
    [lo[k], hi[k]].forEach(v => gI.append("line").attr("x1", cx - 7).attr("x2", cx + 7)
      .attr("y1", yi(v)).attr("y2", yi(v)).attr("stroke", barCol[k]).attr("stroke-width", 2));
    gI.append("circle").attr("cx", cx).attr("cy", yi(m)).attr("r", 3.8).attr("fill", dotCol[k]);
  });
}

// legend (panel a, first plot)
const lg = svg.append("g");
lg.append("rect").attr("x", 303.3).attr("y", 29.3).attr("width", 60).attr("height", 42.4)
  .attr("fill", "#fff").attr("stroke", "#000").attr("stroke-width", 1);
[[RED, 41.7, 48], [BLUE, 60, 66]].forEach(([col, cy, by], k) => {
  lg.append("circle").attr("cx", 310.7).attr("cy", cy).attr("r", 2).attr("fill", col);
  lg.append("text").attr("x", 321).attr("y", by).attr("font-size", 16).text(seriesNames[k]);
});

// panel letters
svg.append("text").attr("x", 9).attr("y", 25).attr("font-size", 25).attr("font-weight", "bold").text("a");
svg.append("text").attr("x", 9).attr("y", 236).attr("font-size", 25).attr("font-weight", "bold").text("b");

// y labels
[["Initial reach", 52], ["error (deg)", 76]].forEach(([t, bx]) => {
  svg.append("text").attr("transform", `translate(${bx},110) rotate(-90)`).attr("text-anchor", "middle")
    .attr("font-size", 18).text(t);
});
[["Proportion of", 24], ["intermediate", 48], ["movements", 72]].forEach(([t, bx]) => {
  svg.append("text").attr("transform", `translate(${bx},340) rotate(-90)`).attr("text-anchor", "middle")
    .attr("font-size", 18).text(t);
});

// x label
const xl = svg.append("text").attr("x", 691).attr("y", 437).attr("text-anchor", "middle").attr("font-size", 18);
xl.append("tspan").text("Speed at target reveal (m s");
xl.append("tspan").attr("font-size", 12).attr("dy", -7).text("\u22121");
xl.append("tspan").attr("dy", 7).text(")");
</script>
</body></html>
